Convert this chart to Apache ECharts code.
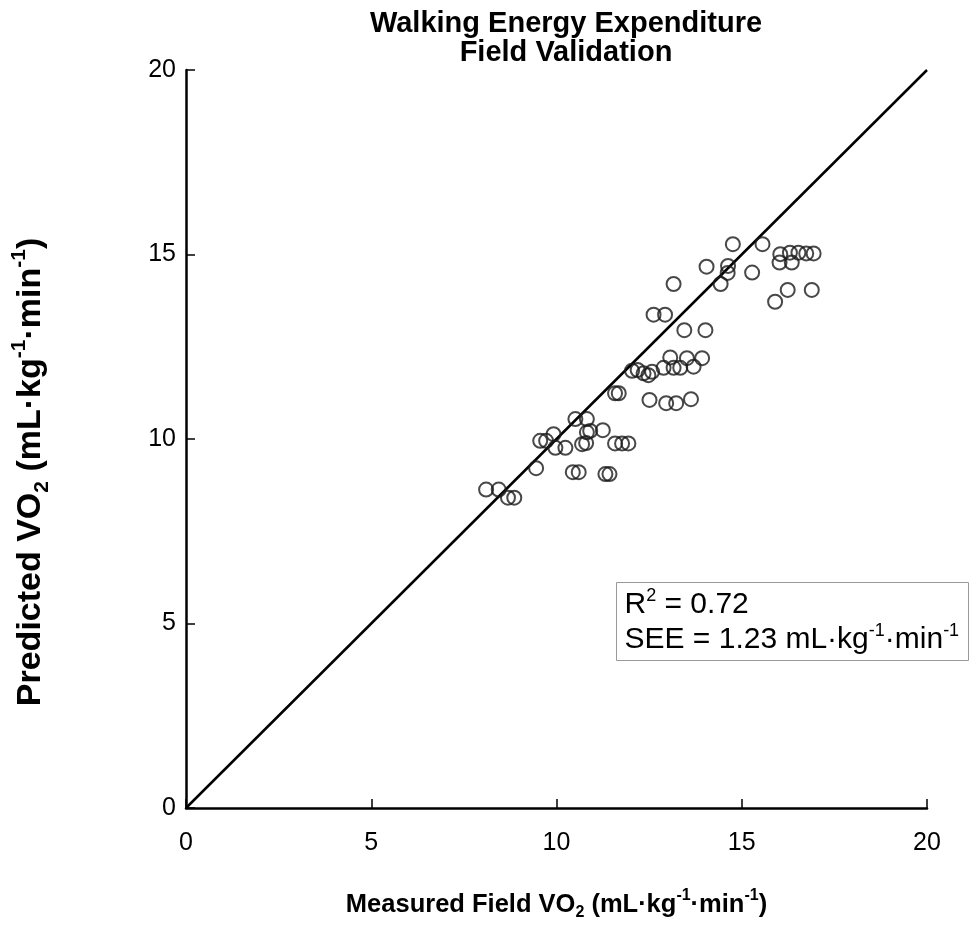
<!DOCTYPE html>
<html>
<head>
<meta charset="utf-8">
<script src="https://cdn.jsdelivr.net/npm/echarts@6/dist/echarts.min.js"></script>
<style>html,body{margin:0;padding:0;background:#fff}#c{width:970px;height:944px}</style>
</head>
<body>
<div id="c"></div>
<script>
// Measured field VO2 (x) vs predicted VO2 (y)
const measured = [8.10,8.44,8.69,8.86,9.45,9.56,9.72,9.92,9.97,10.24,10.44,10.60,10.51,10.82,10.69,10.80,10.82,10.91,11.25,11.32,11.43,11.58,11.77,11.94,11.58,11.68,12.04,12.19,12.35,12.48,12.58,12.51,12.96,13.23,13.63,12.89,13.07,13.16,13.34,13.52,13.70,13.93,13.45,14.02,12.62,12.93,13.16,14.05,14.43,14.63,14.62,14.76,15.28,15.56,15.90,16.02,16.04,16.30,16.53,16.74,16.94,16.35,16.24,16.89];
const predicted = [8.63,8.63,8.41,8.41,9.21,9.95,9.95,10.13,9.76,9.76,9.10,9.10,10.54,10.54,9.86,9.89,10.18,10.22,10.24,9.05,9.05,9.88,9.88,9.88,11.24,11.24,11.85,11.87,11.78,11.73,11.82,11.06,10.97,10.97,11.08,11.93,12.21,11.93,11.93,12.19,11.96,12.19,12.95,12.95,13.37,13.37,14.20,14.67,14.20,14.69,14.50,15.28,14.51,15.28,13.72,14.78,15.01,15.05,15.05,15.03,15.03,14.78,14.04,14.04];
const identityLine = [[0,0],[20,20]];
const axisTicks = [0,5,10,15,20];
const titleLines = ['Walking Energy Expenditure','Field Validation'];
const statR2 = '0.72';
const statSEE = '1.23';

const FONT = "'Liberation Sans', Arial, sans-serif";
const points = measured.map((x,i)=>[x,predicted[i]]);

function nameRich(fs){
  const lh = Math.round(fs*1.3), ss = Math.round(fs*0.62);
  return {
    b:{fontFamily:FONT,fontSize:fs,fontWeight:'bold',color:'#000',lineHeight:lh,verticalAlign:'middle'},
    sub:{fontFamily:FONT,fontSize:ss,fontWeight:'bold',color:'#000',lineHeight:lh,verticalAlign:'bottom'},
    sup:{fontFamily:FONT,fontSize:ss,fontWeight:'bold',color:'#000',lineHeight:lh,verticalAlign:'top'}
  };
}
const unitName = label => '{b|'+label+' VO}{sub|2}{b| (mL·kg}{sup|-1}{b|·min}{sup|-1}{b|)}';
const boxRich = {
  n:{fontFamily:FONT,fontSize:30,color:'#000',lineHeight:35,verticalAlign:'middle'},
  sup:{fontFamily:FONT,fontSize:18,color:'#000',lineHeight:35,verticalAlign:'top'}
};

const chart = echarts.init(document.getElementById('c'), null, {renderer:'canvas'});
const axisCommon = {
  type:'value', min:0, max:20, interval:5,
  axisLine:{show:true,lineStyle:{color:'#000',width:2.5}},
  axisTick:{show:true,inside:true,length:9,lineStyle:{color:'#000',width:1.5}},
  splitLine:{show:false},
  nameLocation:'middle'
};
chart.setOption({
  animation:false,
  backgroundColor:'#fff',
  title:{
    text:titleLines.join('\n'),
    left:561, top:4, textAlign:'center',
    textStyle:{fontFamily:FONT,fontSize:29,fontWeight:'bold',color:'#000',lineHeight:29}
  },
  grid:{left:186,right:43,top:70,bottom:136,containLabel:false},
  xAxis:Object.assign({},axisCommon,{
    name:unitName('Measured Field'), nameGap:80,
    nameTextStyle:{rich:nameRich(25.5)},
    axisLabel:{fontFamily:FONT,fontSize:25,color:'#000',margin:23,
      formatter:v=>axisTicks.includes(v)?String(v):''}
  }),
  yAxis:Object.assign({},axisCommon,{
    name:'',
    axisLabel:{fontFamily:FONT,fontSize:25,color:'#000',margin:10,
      formatter:v=>axisTicks.includes(v)?String(v):''}
  }),
  graphic:[
    {type:'text', x:31, y:472, rotation:Math.PI/2, z:10,
     style:{text:unitName('Predicted'), rich:nameRich(34), align:'center', verticalAlign:'middle'}},
    {type:'group', left:616, top:582,
     children:[
      {type:'rect',shape:{x:0,y:0,width:352,height:78},style:{fill:'#fff',stroke:'#999',lineWidth:1}},
      {type:'text',x:8,y:5,style:{text:'{n|R}{sup|2}{n| = '+statR2+'}',rich:boxRich}},
      {type:'text',x:8,y:40,style:{text:'{n|SEE = '+statSEE+' mL·kg}{sup|-1}{n|·min}{sup|-1}',rich:boxRich}}
     ]}
  ],
  series:[
    {type:'line',data:identityLine,showSymbol:false,symbol:'none',lineStyle:{color:'#000',width:2.5},silent:true,z:2},
    {type:'scatter',data:points,symbol:'circle',symbolSize:14,
     itemStyle:{color:'rgba(255,255,255,0)',borderColor:'#1a1a1a',borderWidth:2},z:3}
  ]
});
</script>
</body>
</html>
